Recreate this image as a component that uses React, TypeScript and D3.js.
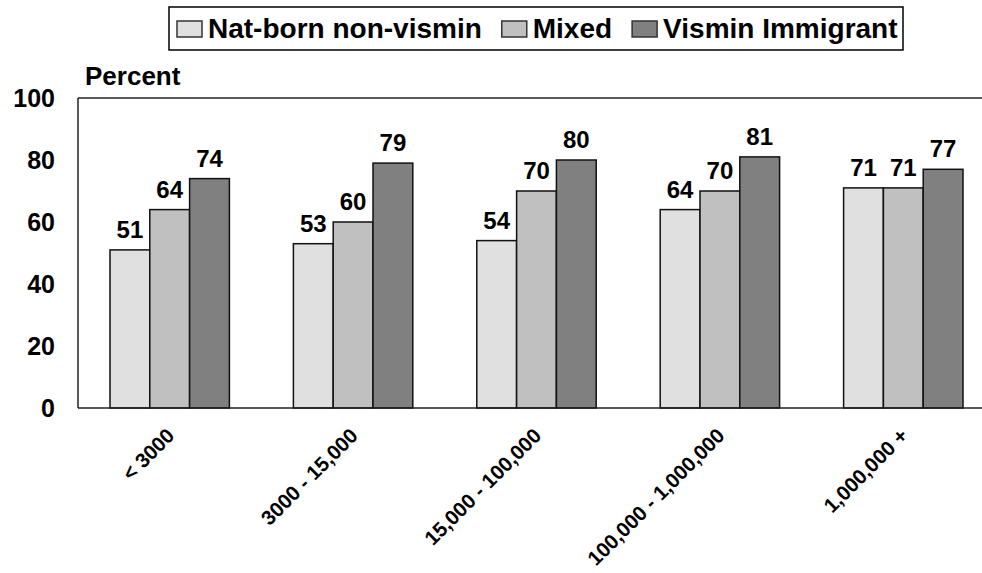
import React from "react";
import * as d3 from "d3";

const categories = ["< 3000", "3000 - 15,000", "15,000 - 100,000", "100,000 - 1,000,000", "1,000,000 +"];
const seriesNames = ["Nat-born non-vismin", "Mixed", "Vismin Immigrant"];
const natBorn = [51, 53, 54, 64, 71];
const mixed = [64, 60, 70, 70, 71];
const vismin = [74, 79, 80, 81, 77];
const yTicks = [0, 20, 40, 60, 80, 100];
const colors = ["#e0e0e0", "#c0c0c0", "#808080"];

const W = 982;
const H = 573;
const plotLeft = 78;
const plotTop = 98;
const plotBottom = 408;
const bandStep = 183.4;
const groupWidth = 119.4;
const FONT = "'Liberation Sans', Arial, sans-serif";

export default function App() {
  const seriesValues = [natBorn, mixed, vismin];
  const x = d3
    .scaleBand<string>()
    .domain(categories)
    .range([plotLeft, plotLeft + bandStep * categories.length])
    .padding(0);
  const bw = x.bandwidth();
  const xInner = d3
    .scaleBand<string>()
    .domain(seriesNames)
    .range([(bw - groupWidth) / 2, (bw + groupWidth) / 2])
    .padding(0);
  const y = d3.scaleLinear().domain([0, 100]).range([plotBottom, plotTop]);

  // legend layout
  const legendFontSize = 28;
  const charW = (s: string) => {
    const canvas = document.createElement("canvas");
    const ctx = canvas.getContext("2d")!;
    ctx.font = `bold ${legendFontSize}px ${FONT}`;
    return ctx.measureText(s).width;
  };
  let lx = 177;
  const legendItems = seriesNames.map((name, i) => {
    const item = { name, x: lx, color: colors[i] };
    lx = lx + 31 + charW(name) + 20;
    return item;
  });

  return (
    <svg
      width={W}
      height={H}
      style={{ position: "absolute", left: 0, top: 0, background: "#fff" }}
      fontFamily={FONT}
      fontWeight="bold"
    >
      {/* legend */}
      <rect x={169} y={7} width={734} height={43} fill="#fff" stroke="#000" strokeWidth={1.5} />
      {legendItems.map((it) => (
        <g key={it.name}>
          <rect x={it.x} y={21} width={25} height={16} fill={it.color} stroke="#333" strokeWidth={1.5} />
          <text x={it.x + 31} y={37.5} fontSize={legendFontSize} fill="#000">
            {it.name}
          </text>
        </g>
      ))}

      {/* y axis title */}
      <text x={85} y={85} fontSize={26} fill="#000">
        Percent
      </text>

      {/* y ticks */}
      {yTicks.map((t) => (
        <text key={t} x={55} y={y(t)} dy="0.36em" textAnchor="end" fontSize={25} fill="#000">
          {t}
        </text>
      ))}

      {/* bars */}
      {categories.map((c, ci) => (
        <g key={c} transform={`translate(${x(c)},0)`}>
          {seriesNames.map((s, si) => {
            const v = seriesValues[si][ci];
            const bx = xInner(s)!;
            return (
              <g key={s}>
                <rect
                  x={bx}
                  y={y(v)}
                  width={xInner.bandwidth()}
                  height={plotBottom - y(v)}
                  fill={colors[si]}
                  stroke="#111"
                  strokeWidth={1.5}
                />
                <text
                  x={bx + xInner.bandwidth() / 2}
                  y={y(v) - 12}
                  textAnchor="middle"
                  fontSize={24}
                  fill="#000"
                >
                  {v}
                </text>
              </g>
            );
          })}
        </g>
      ))}

      {/* frame */}
      <line x1={plotLeft} x2={plotLeft} y1={plotTop} y2={plotBottom} stroke="#222" strokeWidth={1.5} />
      <line x1={plotLeft} x2={W} y1={plotTop} y2={plotTop} stroke="#222" strokeWidth={1.5} />
      <line x1={plotLeft} x2={W} y1={plotBottom} y2={plotBottom} stroke="#222" strokeWidth={1.5} />

      {/* x labels */}
      {categories.map((c) => {
        const cx = x(c)! + bw / 2 + 6;
        const cy = 437;
        return (
          <text
            key={c}
            x={cx}
            y={cy}
            textAnchor="end"
            fontSize={20.5}
            fill="#000"
            transform={`rotate(-45, ${cx}, ${cy})`}
          >
            {c}
          </text>
        );
      })}
    </svg>
  );
}
